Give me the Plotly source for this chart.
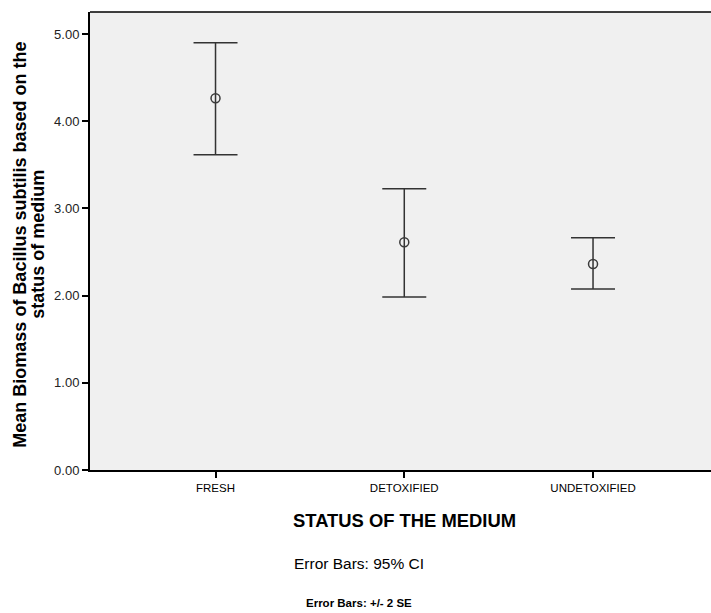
import plotly.graph_objects as go

# Mean biomass per medium status with 95% CI bounds
categories = ["FRESH", "DETOXIFIED", "UNDETOXIFIED"]
means = [4.263, 2.611, 2.362]
ci_upper = [4.90, 3.226, 2.664]
ci_lower = [3.616, 1.984, 2.076]
y_ticks = [0, 1, 2, 3, 4, 5]
y_tick_text = ["0.00", "1.00", "2.00", "3.00", "4.00", "5.00"]

xpos = list(range(len(categories)))
err_plus = [u - m for u, m in zip(ci_upper, means)]
err_minus = [m - l for m, l in zip(means, ci_lower)]

FONT = "Liberation Sans, Arial, sans-serif"
PLOT_W = 621  # plot area width in px (left margin 90)


def px_to_paper(px):
    return (px - 90) / PLOT_W


fig = go.Figure()
fig.add_trace(go.Scatter(
    x=xpos, y=means, mode="markers",
    marker=dict(symbol="circle-open", size=9, color="#3a3a3a", line=dict(width=1.5)),
    error_y=dict(type="data", symmetric=False, array=err_plus, arrayminus=err_minus,
                 color="#333333", thickness=1.5, width=22),
    showlegend=False, hoverinfo="skip",
))

fig.update_layout(
    width=711, height=613,
    margin=dict(l=90, r=0, t=12, b=143),
    paper_bgcolor="white", plot_bgcolor="#f0f0f0",
    font=dict(family=FONT, color="black"),
    xaxis=dict(range=[-0.665, 2.625], tickvals=xpos, ticktext=categories,
               ticks="outside", ticklen=6, tickwidth=2, tickcolor="black",
               showline=True, linecolor="black", linewidth=2,
               showgrid=False, zeroline=False, tickfont=dict(size=11.5)),
    yaxis=dict(range=[0, 5.252], tickvals=y_ticks, ticktext=y_tick_text,
               ticks="outside", ticklen=6, tickwidth=2, tickcolor="black",
               showline=True, linecolor="black", linewidth=2,
               showgrid=False, zeroline=False, tickfont=dict(size=13, color="#222222")),
    shapes=[dict(type="line", xref="paper", yref="paper", x0=0, x1=1, y0=1, y1=1,
                 line=dict(color="black", width=1.5))],
    annotations=[
        dict(text="<b>Mean Biomass of Bacillus subtilis based on the</b>",
             xref="paper", yref="paper", x=px_to_paper(20), y=0.492,
             xanchor="center", yanchor="middle",
             textangle=-90, showarrow=False, font=dict(size=18)),
        dict(text="<b>status of medium</b>",
             xref="paper", yref="paper", x=px_to_paper(38), y=0.492,
             xanchor="center", yanchor="middle",
             textangle=-90, showarrow=False, font=dict(size=18)),
        dict(text="<b>STATUS OF THE MEDIUM</b>", xref="x", yref="paper",
             x=1, y=-0.11, xanchor="center", yanchor="middle",
             showarrow=False, font=dict(size=18.4)),
        dict(text="Error Bars: 95% CI", xref="paper", yref="paper",
             x=px_to_paper(359), y=-0.205, xanchor="center", yanchor="middle",
             showarrow=False, font=dict(size=15.5)),
        dict(text="<b>Error Bars: +/- 2 SE</b>", xref="paper", yref="paper",
             x=px_to_paper(359), y=-0.29, xanchor="center", yanchor="middle",
             showarrow=False, font=dict(size=11.5)),
    ],
)

fig.write_html("out.html")
